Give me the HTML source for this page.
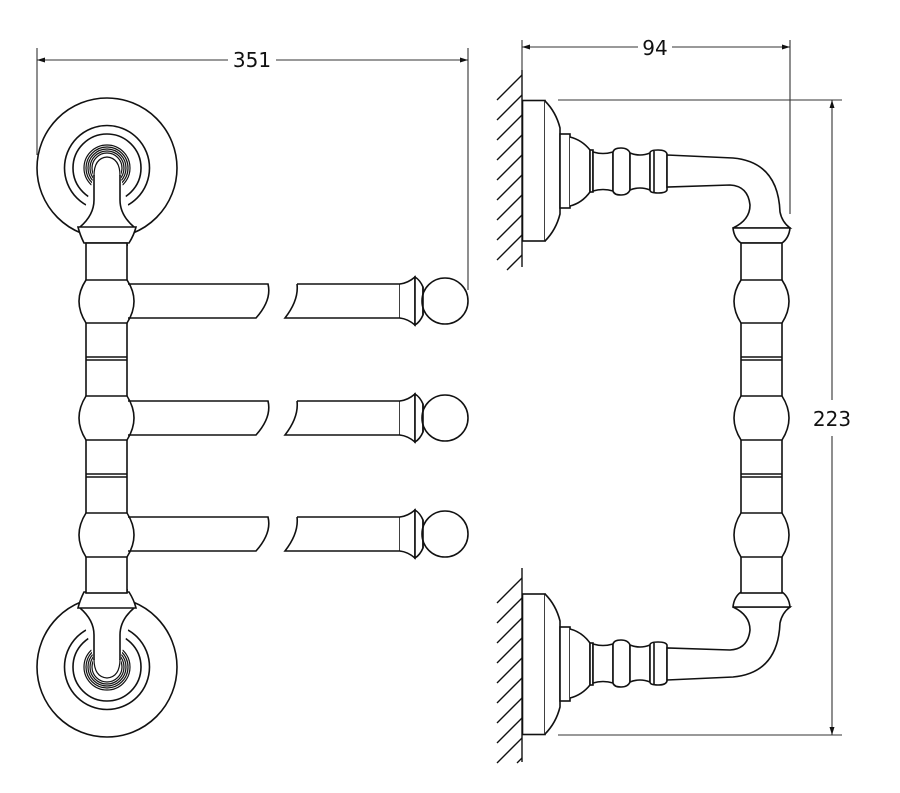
<!DOCTYPE html>
<html><head><meta charset="utf-8"><style>
html,body{margin:0;padding:0;background:#fff;}
svg{display:block;}
text{font-family:"DejaVu Sans","Liberation Sans",sans-serif;font-size:20px;fill:#111;}
</style></head><body>
<svg width="900" height="793" viewBox="0 0 900 793" xmlns="http://www.w3.org/2000/svg">
<defs>
<g id="rosette" fill="none" stroke="#111" stroke-width="1.6">
  <circle cx="107" cy="168" r="70"/>
  <circle cx="107" cy="168" r="42.5"/>
  <circle cx="107" cy="168" r="34"/>
  <circle cx="107" cy="168" r="23" stroke-width="1.2"/>
  <circle cx="107" cy="168" r="21" stroke-width="1.2"/>
  <circle cx="107" cy="168" r="19" stroke-width="1.2"/>
  <circle cx="107" cy="168" r="17" stroke-width="1.2"/>
  <circle cx="107" cy="168" r="15" stroke-width="1.2"/>
  <path d="M93,240 V168 A14,14 0 0 1 121,168 V240 Z" fill="#fff" stroke="none"/>
  <path d="M94,175 V200 Q94,215 80,227 M120,175 V200 Q120,215 134,227" fill="#fff"/>
  <path d="M94,176 Q94,158 107,157 Q120,158 120,176" fill="none" stroke-width="1.2"/>
  <path d="M78,227 H136 Q134,235 129,243 H84 Q80,235 78,227 Z" fill="#fff"/>
  <line x1="86" y1="245" x2="128" y2="245"/>
</g>
<g id="col" fill="#fff" stroke="#111" stroke-width="1.6">
  <rect x="0" y="243" width="41" height="350"/>
  <path d="M0,280 H41 Q55,301 41,323 H0 Q-14,301 0,280 Z"/>
  <path d="M0,396 H41 Q55,418 41,440 H0 Q-14,418 0,396 Z"/>
  <path d="M0,513 H41 Q55,535 41,557 H0 Q-14,535 0,513 Z"/>
  <line x1="0" y1="357" x2="41" y2="357"/><line x1="0" y1="360" x2="41" y2="360"/>
  <line x1="0" y1="474" x2="41" y2="474"/><line x1="0" y1="477" x2="41" y2="477"/>
</g>
<g id="arm" fill="#fff" stroke="#111" stroke-width="1.6">
  <path d="M128,284 H268 Q272,300 256,318 H128" fill="none"/>
  <path d="M297,284 H400 V318 H285 Q299,300 297,284" fill="none"/>
  <path d="M400,284 Q408,283 415,277 V325 Q408,319 400,318" fill="#fff"/>
  <path d="M415,277 Q420,280 423,287 V315 Q420,322 415,325 Z"/>
  <circle cx="445" cy="301" r="23"/>
  <path d="M423,287 V315" />
</g>
<g id="bracket" fill="#fff" stroke="#111" stroke-width="1.6">
  <rect x="522.5" y="100.5" width="22.5" height="140.5"/>
  <path d="M545,101 Q556,112 560,128 V214 Q556,230 545,241"/>
  <rect x="560" y="134" width="10" height="74"/>
  <path d="M570,137 Q582,140 590,150 V192 Q582,203 570,206"/>
  <rect x="590" y="150" width="3" height="42"/>
  <path d="M593,152 Q603,155 613,152 V191 Q603,188 593,191 Z"/>
  <path d="M613,152 Q614,148 621,148 Q628,148 630,153 V190 Q628,195 621,195 Q614,195 613,191 Z"/>
  <path d="M630,153 Q640,157 650,153 V190 Q640,186 630,190 Z"/>
  <path d="M650,153 Q650,150 658,150 Q666,150 667,154 V190 Q666,193 658,193 Q650,193 650,190 Z"/>
  <line x1="654" y1="151" x2="654" y2="192"/>
  <path d="M667,155 L733,158 Q778,162 780,212 Q782,222 790,228 H733 Q750,220 750,205 Q748,186 730,185 L667,187 Z"/>
  <path d="M733,228 H790 Q789,238 782,243 H741 Q734,238 733,228 Z"/>
  <line x1="741" y1="245" x2="782" y2="245"/>
</g>
</defs>

<!-- Left view -->
<use href="#rosette"/>
<use href="#rosette" transform="translate(0,835) scale(1,-1)"/>
<use href="#col" transform="translate(86,0)"/>
<use href="#arm"/>
<use href="#arm" transform="translate(0,117)"/>
<use href="#arm" transform="translate(0,233)"/>

<!-- Right view -->
<use href="#bracket"/>
<use href="#bracket" transform="translate(0,835) scale(1,-1)"/>
<use href="#col" transform="translate(741,0)"/>

<!-- walls -->
<g stroke="#111" stroke-width="1.4" fill="none">
  <line x1="522" y1="70" x2="522" y2="267"/>
  <line x1="522" y1="568" x2="522" y2="762"/>
  <path d="M522,75 l-25,25 M522,95 l-25,25 M522,115 l-25,25 M522,135 l-25,25 M522,155 l-25,25 M522,175 l-25,25 M522,195 l-25,25 M522,215 l-25,25 M522,235 l-25,25 M522,255 l-15,15"/>
  <path d="M522,578 l-25,25 M522,598 l-25,25 M522,618 l-25,25 M522,638 l-25,25 M522,658 l-25,25 M522,678 l-25,25 M522,698 l-25,25 M522,718 l-25,25 M522,738 l-25,25 M522,758 l-5,5"/>
</g>

<!-- dimensions -->
<g stroke="#333" stroke-width="1.1" fill="none">
  <line x1="37" y1="48" x2="37" y2="155"/>
  <line x1="468" y1="48" x2="468" y2="290"/>
  <line x1="37" y1="60" x2="228" y2="60"/>
  <line x1="276" y1="60" x2="468" y2="60"/>
  <line x1="522" y1="40" x2="522" y2="70"/>
  <line x1="790" y1="40" x2="790" y2="214"/>
  <line x1="522" y1="47" x2="638" y2="47"/>
  <line x1="672" y1="47" x2="790" y2="47"/>
  <line x1="558" y1="100" x2="842" y2="100"/>
  <line x1="558" y1="735" x2="842" y2="735"/>
  <line x1="832" y1="100" x2="832" y2="400"/>
  <line x1="832" y1="436" x2="832" y2="735"/>
</g>
<g fill="#111">
  <path d="M37,60 l8,-2.5 v5 z M468,60 l-8,-2.5 v5 z"/>
  <path d="M522,47 l8,-2.5 v5 z M790,47 l-8,-2.5 v5 z"/>
  <path d="M832,100 l-2.5,8 h5 z M832,735 l-2.5,-8 h5 z"/>
</g>
<text x="252" y="67" text-anchor="middle">351</text>
<text x="655" y="55" text-anchor="middle">94</text>
<text x="832" y="426" text-anchor="middle">223</text>
</svg>
</body></html>
